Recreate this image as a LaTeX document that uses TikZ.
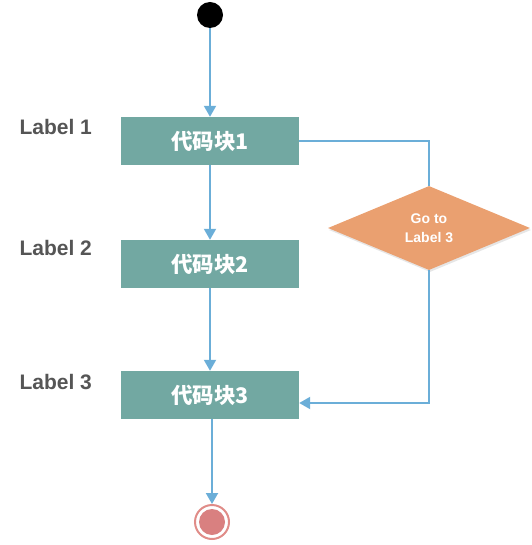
\documentclass[tikz,border=0pt]{standalone}
\usepackage{fontspec}
\setmainfont{Liberation Sans}
\newfontfamily\cjk{Noto Sans CJK SC}
\usetikzlibrary{arrows.meta,shapes.geometric,shadows}
\definecolor{boxteal}{HTML}{72A8A2}
\definecolor{linkblue}{HTML}{6BAED8}
\definecolor{diaorange}{HTML}{EAA070}
\definecolor{labgray}{HTML}{555555}
\definecolor{endred}{HTML}{D98080}
\definecolor{endring}{HTML}{E08C88}
\begin{document}
\begin{tikzpicture}[x=1pt,y=-1pt,
  codebox/.style={rectangle,fill=boxteal,minimum width=178pt,minimum height=48pt,inner sep=0pt,
    text=white,font=\cjk\bfseries\fontsize{21.5pt}{24pt}\selectfont},
  lab/.style={text=labgray,font=\bfseries\fontsize{21pt}{24pt}\selectfont,anchor=west},
  conn/.style={draw=linkblue,line width=2pt},
  arr/.style={conn,-{Triangle[width=12pt,length=11pt]}},
  dia/.style={diamond,fill=diaorange,minimum width=202pt,minimum height=84pt,inner sep=0pt,
    aspect=2.4,text=white,align=center,font=\bfseries\fontsize{14pt}{19pt}\selectfont,
    drop shadow={opacity=0.2,shadow xshift=1pt,shadow yshift=-2pt}}]
\useasboundingbox (0,0) rectangle (531,545);
\node[circle,fill=black,minimum size=26pt,inner sep=0pt] (start) at (210,15) {};
\node[codebox] (b1) at (210,141) {代码块1};
\node[codebox] (b2) at (210,264) {代码块2};
\node[codebox] (b3) at (210,395) {代码块3};
\node[lab] (l1) at (16,127) {Label 1};
\node[lab] (l2) at (16,248) {Label 2};
\node[lab] (l3) at (16,382) {Label 3};
\node[dia] (go) at (429,228) {Go to\\Label 3};
\node[circle,draw=endring,line width=2pt,fill=white,minimum size=34pt,inner sep=0pt] (end) at (212,522) {};
\node[circle,fill=endred,minimum size=26pt,inner sep=0pt] (endin) at (end.center) {};
\draw[arr] (start) -- (b1);
\draw[arr] (b1) -- (b2);
\draw[arr] (b2) -- (b3);
\draw[arr] (b3.south -| end) -- (end);
\draw[conn] (b1.east) -| (go.north);
\draw[arr] (go.south) |- ([yshift=-8pt]b3.east);
\end{tikzpicture}
\end{document}
